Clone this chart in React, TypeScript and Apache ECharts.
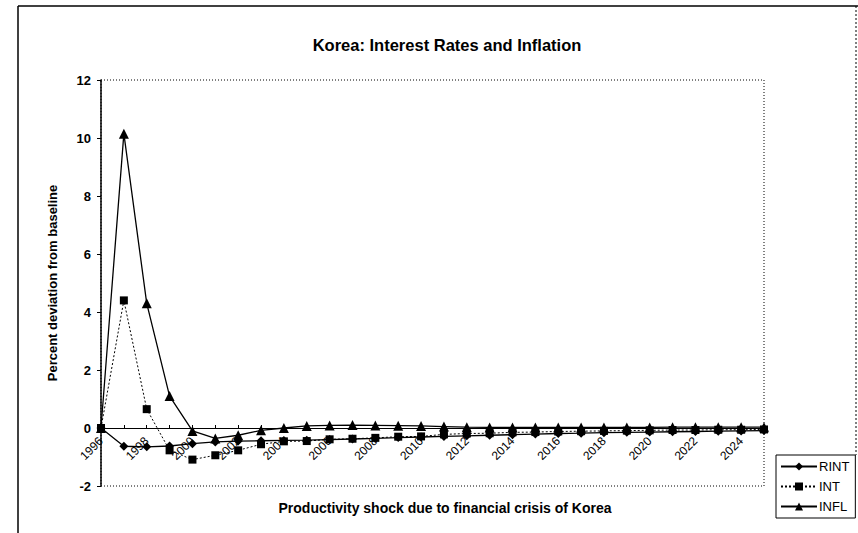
import React, { useEffect, useRef } from "react";
import * as echarts from "echarts";

const years: string[] = [
  "1996","1997","1998","1999","2000","2001","2002","2003","2004","2005",
  "2006","2007","2008","2009","2010","2011","2012","2013","2014","2015",
  "2016","2017","2018","2019","2020","2021","2022","2023","2024","2025",
];

const rint: number[] = [
  0, -0.63, -0.65, -0.62, -0.54, -0.48, -0.45, -0.44, -0.43, -0.42,
  -0.4, -0.38, -0.36, -0.33, -0.31, -0.29, -0.27, -0.25, -0.23, -0.21,
  -0.19, -0.18, -0.16, -0.15, -0.14, -0.13, -0.12, -0.11, -0.1, -0.09,
];

const intr: number[] = [
  0, 4.4, 0.65, -0.77, -1.09, -0.94, -0.77, -0.56, -0.46, -0.45,
  -0.39, -0.37, -0.34, -0.3, -0.29, -0.22, -0.19, -0.18, -0.15, -0.14,
  -0.12, -0.11, -0.1, -0.09, -0.08, -0.07, -0.07, -0.06, -0.06, -0.05,
];

const infl: number[] = [
  0, 10.15, 4.3, 1.1, -0.1, -0.36, -0.25, -0.08, 0.0, 0.07,
  0.09, 0.1, 0.09, 0.08, 0.07, 0.05, 0.03, 0.02, 0.02, 0.02,
  0.02, 0.02, 0.02, 0.02, 0.02, 0.03, 0.03, 0.03, 0.03, 0.03,
];

const FONT = "Liberation Sans, Arial, sans-serif";

export default function App() {
  const ref = useRef<HTMLDivElement>(null);
  useEffect(() => {
    if (!ref.current) return;
    const chart = echarts.init(ref.current, undefined, { renderer: "svg" });
    const gl = 101, gt = 80, gr = 764, gb = 486;
    const yMin = -2, yMax = 12;
    const zeroOffset = -Math.round(((0 - yMin) / (yMax - yMin)) * (gb - gt));
    chart.setOption({
      animation: false,
      backgroundColor: "#ffffff",
      textStyle: { fontFamily: FONT, color: "#000" },
      title: {
        text: "Korea: Interest Rates and Inflation",
        left: 442,
        textAlign: "center",
        top: 31,
        textStyle: { fontFamily: FONT, fontSize: 16.5, fontWeight: "bold", color: "#000" },
      },
      grid: {
        left: gl, top: gt, right: 858 - gr, bottom: 533 - gb,
        containLabel: false, outerBoundsMode: "none",
      },
      legend: {
        orient: "vertical",
        left: 776,
        top: 455,
        padding: [5, 6, 5, 4],
        itemGap: 7,
        itemWidth: 36,
        itemHeight: 10,
        borderColor: "#000",
        borderWidth: 1,
        textStyle: { fontFamily: FONT, fontSize: 13, color: "#000", padding: [0, 0, 0, -3] },
        data: ["RINT", "INT", "INFL"],
      },
      xAxis: {
        type: "category",
        data: years,
        boundaryGap: false,
        position: "bottom",
        offset: zeroOffset,
        axisLine: { onZero: false, lineStyle: { color: "#000", width: 1 } },
        axisTick: { show: true, interval: 0, length: 3, inside: true, lineStyle: { color: "#000" } },
        axisLabel: {
          interval: 1,
          rotate: 45,
          margin: 11,
          fontFamily: FONT,
          fontSize: 12,
          color: "#000",
        },
        splitLine: { show: false },
      },
      yAxis: {
        type: "value",
        min: yMin,
        max: yMax,
        interval: 2,
        name: "Percent deviation from baseline",
        nameLocation: "middle",
        nameGap: 42,
        nameTextStyle: { fontFamily: FONT, fontSize: 13, fontWeight: "bold", color: "#000" },
        axisLine: { show: true, lineStyle: { color: "#000", width: 1.5 } },
        axisTick: { show: true, length: 4, lineStyle: { color: "#000" } },
        axisLabel: { fontFamily: FONT, fontSize: 13, fontWeight: "bold", color: "#000", margin: 10 },
        splitLine: { show: false },
      },
      series: [
        {
          name: "RINT",
          type: "line",
          data: rint,
          symbol: "diamond",
          symbolSize: 9,
          itemStyle: { color: "#000" },
          lineStyle: { color: "#000", width: 1.3, type: "solid" },
        },
        {
          name: "INT",
          type: "line",
          data: intr,
          symbol: "rect",
          symbolSize: 8,
          itemStyle: { color: "#000" },
          lineStyle: { color: "#000", width: 1, type: [2, 2] },
        },
        {
          name: "INFL",
          type: "line",
          data: infl,
          symbol: "triangle",
          symbolSize: 10,
          itemStyle: { color: "#000" },
          lineStyle: { color: "#000", width: 1.3, type: "solid" },
        },
      ],
      graphic: [
        {
          type: "rect",
          shape: { x: gl, y: gt, width: gr - gl, height: gb - gt },
          style: { fill: "none", stroke: "#000", lineWidth: 1, lineDash: [1, 2] },
          silent: true,
          z: -1,
        },
        {
          type: "text",
          x: 445,
          y: 508,
          style: {
            text: "Productivity shock due to financial crisis of Korea",
            fontFamily: FONT,
            fontSize: 14,
            fontWeight: "bold",
            fill: "#000",
            align: "center",
            verticalAlign: "middle",
          },
        },
        {
          type: "line",
          shape: { x1: 18, y1: 6, x2: 858, y2: 6 },
          style: { stroke: "#000", lineWidth: 1.5 },
        },
        {
          type: "line",
          shape: { x1: 18, y1: 6, x2: 18, y2: 533 },
          style: { stroke: "#000", lineWidth: 1.5 },
        },
        {
          type: "line",
          shape: { x1: 856, y1: 6, x2: 856, y2: 455 },
          style: { stroke: "#000", lineWidth: 1, lineDash: [2, 2] },
        },
      ],
    });
    return () => chart.dispose();
  }, []);
  return <div ref={ref} style={{ width: 858, height: 533, position: "absolute", left: 0, top: 0 }} />;
}
